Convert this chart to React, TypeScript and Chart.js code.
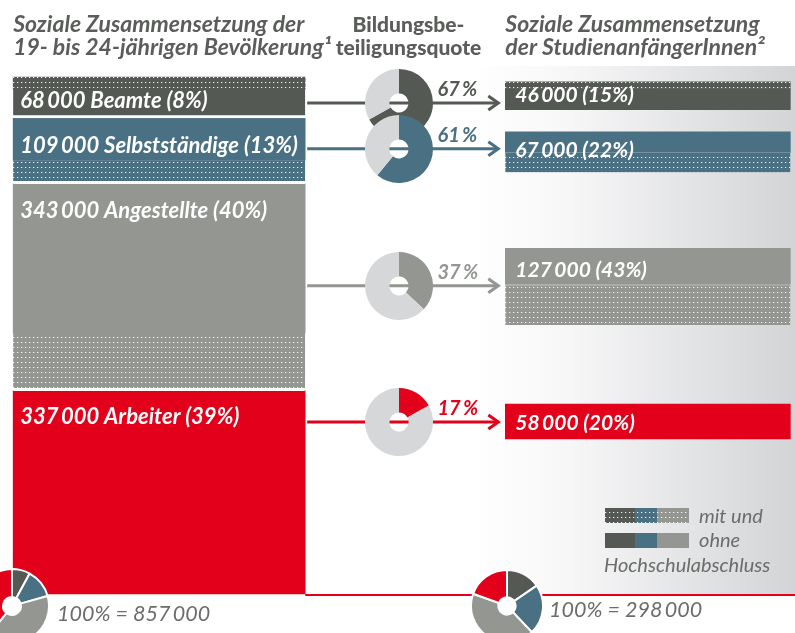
import React, { useEffect, useRef } from 'react';
import { Chart, registerables } from 'chart.js';

Chart.register(...registerables);

// ---------- data (thousands of persons / percent) ----------
const groups = ['Beamte', 'Selbstständige', 'Angestellte', 'Arbeiter'];
const populationK = [68, 109, 343, 337];
const populationWithDegreeK = [20, 39, 96, 0];
const populationShare = [8, 13, 40, 39];
const quotePct = [67, 61, 37, 17];
const studentsK = [46, 67, 127, 58];
const studentsWithDegreeK = [11, 33, 67, 0];
const studentsShare = [15, 22, 43, 20];
const columns = ['Bevölkerung', 'Bildungsbeteiligungsquote', 'StudienanfängerInnen'];

// ---------- layout (positions on the value axis, thousands) ----------
const arrowAt = [43, 119, 346, 572];
const studentsTopAt = [8, 91, 284, 542];
const leftLabelAt = [51.4, 126, 233.7, 575.2];
const rightLabelAt = [41.4, 132.6, 331.6, 585.1];
const withOnTop = [true, false, false, false];

// ---------- styles ----------
const COLORS = ['#545954', '#4a7083', '#939691', '#e2001a'];
const LIGHT = '#d6d7d9';
const TEXT = '#5a5d5a';
const TEXT2 = '#6a6d6a';
const FONT = 'Lato, "Open Sans", sans-serif';
const LEFT_W = 292;
const RIGHT_W = 285;
const W = 795;
const H = 633;

const fmt = (n: number) => String(n).replace(/\B(?=(\d{3})+(?!\d))/g, '\u2009');

function dots(base: string): CanvasPattern {
  const c = document.createElement('canvas');
  c.width = 4;
  c.height = 5;
  const x = c.getContext('2d')!;
  x.fillStyle = base;
  x.fillRect(0, 0, 4, 5);
  x.fillStyle = 'rgba(255,255,255,0.9)';
  x.fillRect(1, 2, 1, 1);
  x.fillStyle = 'rgba(255,255,255,0.25)';
  x.fillRect(2, 2, 1, 1);
  return x.createPattern(c, 'repeat')!;
}

export default function App() {
  const boxRef = useRef<HTMLDivElement>(null);
  const canvasRef = useRef<HTMLCanvasElement>(null);

  useEffect(() => {
    const box = boxRef.current!;
    const canvas = canvasRef.current!;
    const patterns = COLORS.map(dots);
    const popTotal = populationK.reduce((a, b) => a + b, 0);
    const stuTotal = studentsK.reduce((a, b) => a + b, 0);

    const datasets: any[] = [];
    let cum = 0;
    groups.forEach((g, i) => {
      const start = cum;
      const end = cum + populationK[i];
      cum = end;
      const w = populationWithDegreeK[i];
      const parts = withOnTop[i]
        ? [{ r: [start, start + w], p: true }, { r: [start + w, end], p: false }]
        : [{ r: [start, end - w], p: false }, { r: [end - w, end], p: true }];
      parts.forEach((pt, k) => {
        if (pt.r[1] - pt.r[0] <= 0) return;
        const isBottom = k === 1 || (k === 0 && parts[1].r[1] - parts[1].r[0] <= 0);
        datasets.push({
          label: `${g} ${pt.p ? 'mit' : 'ohne'} (Bevölkerung)`,
          data: [pt.r, null, null],
          backgroundColor: pt.p ? patterns[i] : COLORS[i],
          barThickness: LEFT_W,
          grouped: false,
          clip: false,
          borderSkipped: false,
          borderColor: '#ffffff',
          borderWidth: { top: 0, left: 0, right: 0, bottom: isBottom && i < groups.length - 1 ? 3 : 0 },
        });
      });
    });
    groups.forEach((g, i) => {
      const start = studentsTopAt[i];
      const end = start + studentsK[i];
      const w = studentsWithDegreeK[i];
      const parts = withOnTop[i]
        ? [{ r: [start, start + w], p: true }, { r: [start + w, end], p: false }]
        : [{ r: [start, end - w], p: false }, { r: [end - w, end], p: true }];
      parts.forEach((pt, k) => {
        if (pt.r[1] - pt.r[0] <= 0) return;
        datasets.push({
          label: `${g} ${pt.p ? 'mit' : 'ohne'} (Studienanfänger)`,
          data: [null, null, pt.r],
          backgroundColor: pt.p ? patterns[i] : COLORS[i],
          barThickness: RIGHT_W,
          grouped: false,
          clip: false,
          borderSkipped: false,
          borderColor: 'rgba(255,255,255,0.45)',
          borderWidth: { top: pt.p && k === 1 ? 1 : 0, left: 0, right: 0, bottom: 0 },
        });
      });
    });

    const background = {
      id: 'background',
      beforeDatasetsDraw(chart: any) {
        const { ctx } = chart;
        const yb = chart.scales.y.getPixelForValue(popTotal);
        const g = ctx.createLinearGradient(470, 0, W, 0);
        g.addColorStop(0, '#ffffff');
        g.addColorStop(0.3, '#f7f7f8');
        g.addColorStop(1, '#d3d4d6');
        ctx.save();
        ctx.fillStyle = g;
        ctx.fillRect(470, 66, W - 470, yb - 66);
        ctx.restore();
      },
    };

    const overlay = {
      id: 'overlay',
      afterDatasetsDraw(chart: any) {
        const { ctx } = chart;
        const x = chart.scales.x;
        const y = chart.scales.y;
        const xl = x.getPixelForValue(0);
        const xm = x.getPixelForValue(1);
        const xr = x.getPixelForValue(2);
        const leftL = xl - LEFT_W / 2;
        const leftR = xl + LEFT_W / 2;
        const rightL = xr - RIGHT_W / 2;
        ctx.save();

        // base line
        const yb = y.getPixelForValue(popTotal);
        ctx.strokeStyle = COLORS[3];
        ctx.lineWidth = 2;
        ctx.beginPath();
        ctx.moveTo(leftR, yb + 1);
        ctx.lineTo(W, yb + 1);
        ctx.stroke();

        // arrows
        groups.forEach((g, i) => {
          const yy = y.getPixelForValue(arrowAt[i]);
          const x1 = rightL - 7;
          ctx.strokeStyle = COLORS[i];
          ctx.lineWidth = 3;
          ctx.beginPath();
          ctx.moveTo(leftR + 2, yy);
          ctx.lineTo(x1 - 1, yy);
          ctx.stroke();
          ctx.beginPath();
          ctx.lineJoin = 'miter';
          ctx.moveTo(x1 - 10, yy - 7);
          ctx.lineTo(x1, yy);
          ctx.lineTo(x1 - 10, yy + 7);
          ctx.stroke();
          ctx.fillStyle = COLORS[i];
          ctx.font = `italic bold 20px ${FONT}`;
          ctx.textAlign = 'left';
          ctx.textBaseline = 'alphabetic';
          ctx.fillText(`${quotePct[i]}\u2009%`, xm + 34, yy - 7);
        });

        // bar labels
        ctx.fillStyle = '#ffffff';
        ctx.font = `italic bold 22px ${FONT}`;
        groups.forEach((g, i) => {
          ctx.fillText(
            `${fmt(populationK[i] * 1000)} ${g} (${populationShare[i]}%)`,
            leftL + 7,
            y.getPixelForValue(leftLabelAt[i])
          );
        });
        ctx.font = `italic bold 21px ${FONT}`;
        groups.forEach((g, i) => {
          ctx.fillText(
            `${fmt(studentsK[i] * 1000)} (${studentsShare[i]}%)`,
            rightL + 10,
            y.getPixelForValue(rightLabelAt[i])
          );
        });

        // headings
        ctx.fillStyle = TEXT;
        ctx.font = `italic bold 23px ${FONT}`;
        ctx.textAlign = 'left';
        ctx.fillText('Soziale Zusammensetzung der', leftL, 32);
        ctx.fillText('19- bis 24-jährigen Bevölkerung¹', leftL, 55);
        ctx.fillText('Soziale Zusammensetzung', rightL, 32);
        ctx.fillText('der StudienanfängerInnen²', rightL, 55);
        ctx.font = `900 21px ${FONT}`;
        ctx.textAlign = 'center';
        ctx.fillText('Bildungsbe-', xm + 5, 32);
        ctx.fillText('teiligungsquote', xm + 5, 55);

        // totals
        ctx.textAlign = 'left';
        ctx.fillStyle = TEXT2;
        ctx.font = `italic 21.5px ${FONT}`;
        ctx.fillText(`100% = ${fmt(popTotal * 1000)}`, 57, 621);
        ctx.fillText(`100% = ${fmt(stuTotal * 1000)}`, 549, 617);

        // legend
        const sw = [[605, 30], [635, 22], [657, 32]];
        sw.forEach(([sx, w], i) => {
          ctx.fillStyle = patterns[i];
          ctx.fillRect(sx, 508, w, 15);
          ctx.fillStyle = COLORS[i];
          ctx.fillRect(sx, 533, w, 15);
        });
        ctx.fillStyle = TEXT2;
        ctx.font = `italic 20px ${FONT}`;
        ctx.fillText('mit und', 699, 523);
        ctx.fillText('ohne', 699, 547);
        ctx.fillText('Hochschulabschluss', 604, 572);
        ctx.restore();
      },
    };

    const chart = new Chart(canvas, {
      type: 'bar',
      data: { labels: columns, datasets },
      options: {
        animation: false,
        responsive: false,
        devicePixelRatio: 1,
        events: [],
        layout: { padding: { left: 37, right: 25, top: 77, bottom: 39 } },
        scales: {
          x: { display: false, offset: true },
          y: { display: false, reverse: true, min: 0, max: popTotal },
        },
        plugins: { legend: { display: false }, tooltip: { enabled: false } },
      },
      plugins: [background, overlay],
    } as any);

    const extra: Chart[] = [];
    const nodes: HTMLCanvasElement[] = [];
    const addDonut = (cx: number, cy: number, r: number, data: number[], colors: string[], cutout: string, bw: number) => {
      const size = Math.round(2 * r + bw);
      const c = document.createElement('canvas');
      c.width = size;
      c.height = size;
      c.style.position = 'absolute';
      c.style.left = `${cx - size / 2}px`;
      c.style.top = `${cy - size / 2}px`;
      c.style.width = `${size}px`;
      c.style.height = `${size}px`;
      box.appendChild(c);
      nodes.push(c);
      extra.push(
        new Chart(c, {
          type: 'doughnut',
          data: {
            labels: data.map((_, k) => String(k)),
            datasets: [{ data, backgroundColor: colors, borderColor: '#ffffff', borderWidth: bw }],
          },
          options: {
            animation: false,
            responsive: false,
            devicePixelRatio: 1,
            events: [],
            cutout,
            plugins: { legend: { display: false }, tooltip: { enabled: false } },
          },
        } as any)
      );
    };

    const xm = chart.scales.x.getPixelForValue(1) - 5;
    groups.forEach((g, i) => {
      addDonut(xm, chart.scales.y.getPixelForValue(arrowAt[i]), 34, [quotePct[i], 100 - quotePct[i]], [COLORS[i], LIGHT], '28%', 0);
    });
    const by = chart.scales.y.getPixelForValue(popTotal) + 12;
    addDonut(12, by, 37, populationK, COLORS, '24%', 2);
    addDonut(507, by, 36, studentsK, COLORS, '24%', 2);

    return () => {
      extra.forEach((c) => c.destroy());
      nodes.forEach((n) => n.remove());
      chart.destroy();
    };
  }, []);

  return (
    <div
      ref={boxRef}
      style={{ position: 'fixed', left: 0, top: 0, width: W, height: H, overflow: 'hidden', background: '#ffffff' }}
    >
      <canvas ref={canvasRef} width={W} height={H} style={{ position: 'absolute', left: 0, top: 0, width: W, height: H }} />
    </div>
  );
}
